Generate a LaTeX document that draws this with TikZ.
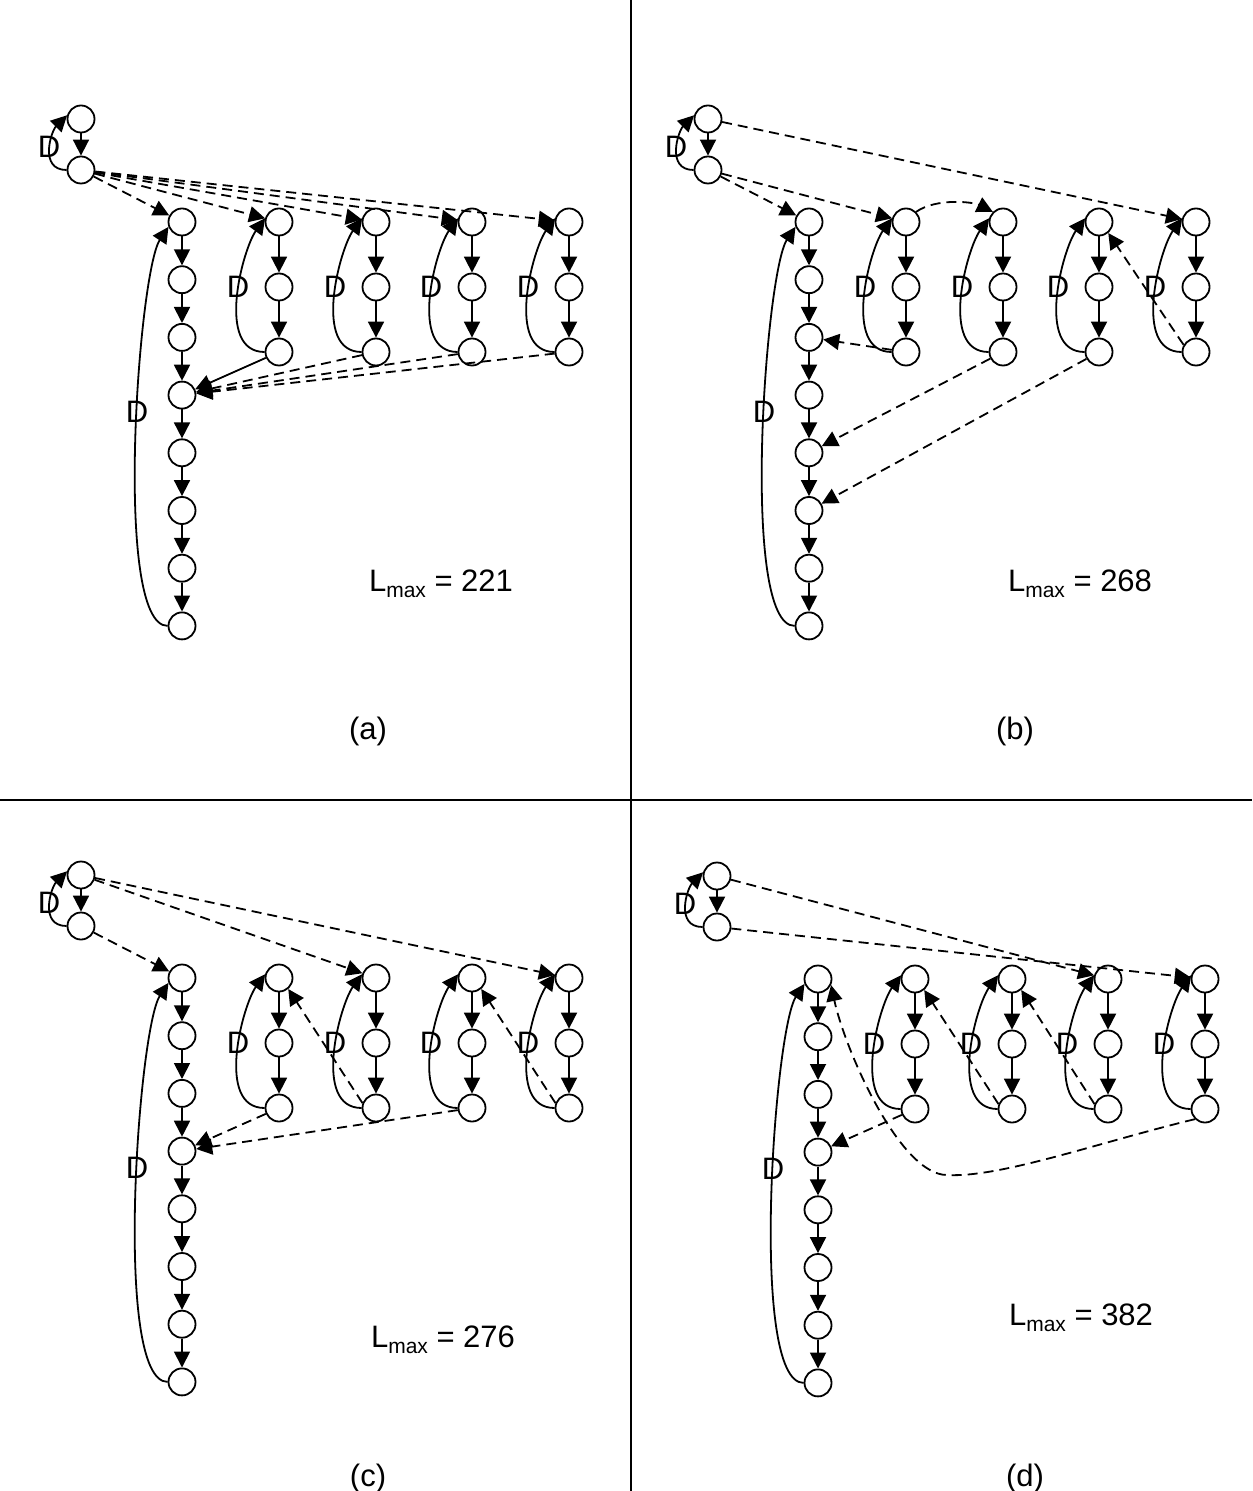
\documentclass[tikz,border=0pt]{standalone}
\usepackage{fontspec}
\setmainfont{Liberation Sans}
\usetikzlibrary{arrows.meta}
\tikzset{
 nd/.style={circle,draw,line width=0.9pt,minimum size=13.5pt,inner sep=0pt},
 arr/.style={line width=0.9pt,-{Triangle[length=8pt,width=8pt]}},
 dsh/.style={arr,dash pattern=on 5pt off 3pt},
 lbl/.style={font=\fontsize{15.5}{18}\selectfont,inner sep=0pt},
 sep/.style={line width=0.8pt}
}
\newcommand\mkpanel[1]{%
 \node[nd] (#1T1) at (81,119) {};
 \node[nd] (#1T2) at (81,170) {};
 \foreach \k in {0,...,7}{\node[nd] (#1M\k) at (182,{222+57.7*\k}) {};}
 \foreach \i/\x in {1/279,2/376,3/472,4/569}{%
   \node[nd] (#1S\i-1) at (\x,222) {};
   \node[nd] (#1S\i-2) at (\x,287) {};
   \node[nd] (#1S\i-3) at (\x,352) {};
   \draw[arr] (#1S\i-1) -- (#1S\i-2);
   \draw[arr] (#1S\i-2) -- (#1S\i-3);
   \draw[arr] (#1S\i-3.west) .. controls +(-50,0) and +(-22,30) .. (#1S\i-1.165);
   \node[lbl] (#1D\i) at (\x-41,287) {D};
 }
 \draw[arr] (#1T1) -- (#1T2);
 \draw[arr] (#1T2.west) .. controls +(-28,0) and +(-16,16) .. (#1T1.165);
 \node[lbl] (#1DT) at (49,147) {D};
 \foreach \k/\n in {0/1,1/2,2/3,3/4,4/5,5/6,6/7}{\draw[arr] (#1M\k) -- (#1M\n);}
 \draw[arr] (#1M7.west) .. controls +(-55,0) and +(-30,45) .. (#1M0.200);
 \node[lbl] (#1DM) at (137,412) {D};
}
\newcommand\lmaxtext[1]{L\raisebox{-0.35ex}{\fontsize{10.5}{12}\selectfont max} = #1}
\begin{document}
\begin{tikzpicture}[x=0.5pt,y=-0.5pt]
\useasboundingbox (0,0) rectangle (1252,1491);
% dividers
\coordinate (vt) at (631,0); \coordinate (vb) at (631,1491);
\coordinate (hl) at (0,800); \coordinate (hr) at (1252,800);
\draw[sep] (vt) -- (vb);
\draw[sep] (hl) -- (hr);

\begin{scope}[shift={(0,0)}] \mkpanel{a} \end{scope}
\begin{scope}[shift={(627,0)}] \mkpanel{b} \end{scope}
\begin{scope}[shift={(0,756)}] \mkpanel{c} \end{scope}
\begin{scope}[shift={(636,757)}] \mkpanel{d} \end{scope}

% (a)
\draw[dsh] (aT2) -- (aM0);
\foreach \i in {1,...,4}{\draw[dsh] (aT2) -- (aS\i-1);}
\draw[arr] (aS1-3) -- (aM3);
\foreach \i in {2,3,4}{\draw[dsh] (aS\i-3) -- (aM3);}

% (b)
\draw[dsh] (bT1) -- (bS4-1);
\draw[dsh] (bT2) -- (bM0);
\draw[dsh] (bT2) -- (bS1-1);
\draw[dsh] (bS1-1.north east) .. controls +(20,-14) and +(-20,-10) .. (bS2-1.north west);
\draw[dsh] (bS4-3.150) -- (bS3-1.-50);
\draw[dsh] (bS1-3) -- (bM2);
\draw[dsh] (bS2-3) -- (bM4);
\draw[dsh] (bS3-3) -- (bM5);

% (c)
\draw[dsh] (cT2) -- (cM0);
\draw[dsh] (cT1) -- (cS2-1);
\draw[dsh] (cT1) -- (cS4-1);
\draw[dsh] (cS2-3.160) -- (cS1-1.-50);
\draw[dsh] (cS4-3.160) -- (cS3-1.-50);
\draw[dsh] (cS1-3) -- (cM3);
\draw[dsh] (cS3-3) -- (cM3);

% (d)
\draw[dsh] (dT1) -- (dS3-1);
\draw[dsh] (dT2) -- (dS4-1);
\coordinate (dlow) at (947,1175);
\draw[dsh] (dS4-3.south west) .. controls (1100,1142) and (1000,1178) .. (dlow)
   .. controls (900,1175) and (845,1050) .. (dM0.-25);
\draw[dsh] (dS1-3) -- (dM3);
\draw[dsh] (dS2-3.160) -- (dS1-1.-50);
\draw[dsh] (dS3-3.160) -- (dS2-1.-50);

% labels
\node[lbl] (la) at (441,584) {\lmaxtext{221}};
\node[lbl] (lb) at (1080,584) {\lmaxtext{268}};
\node[lbl] (lc) at (443,1340) {\lmaxtext{276}};
\node[lbl] (ld) at (1081,1318) {\lmaxtext{382}};
\node[lbl] (ca) at (368,731) {(a)};
\node[lbl] (cb) at (1015,731) {(b)};
\node[lbl] (cc) at (368,1478) {(c)};
\node[lbl] (cd) at (1025,1478) {(d)};
\end{tikzpicture}
\end{document}
